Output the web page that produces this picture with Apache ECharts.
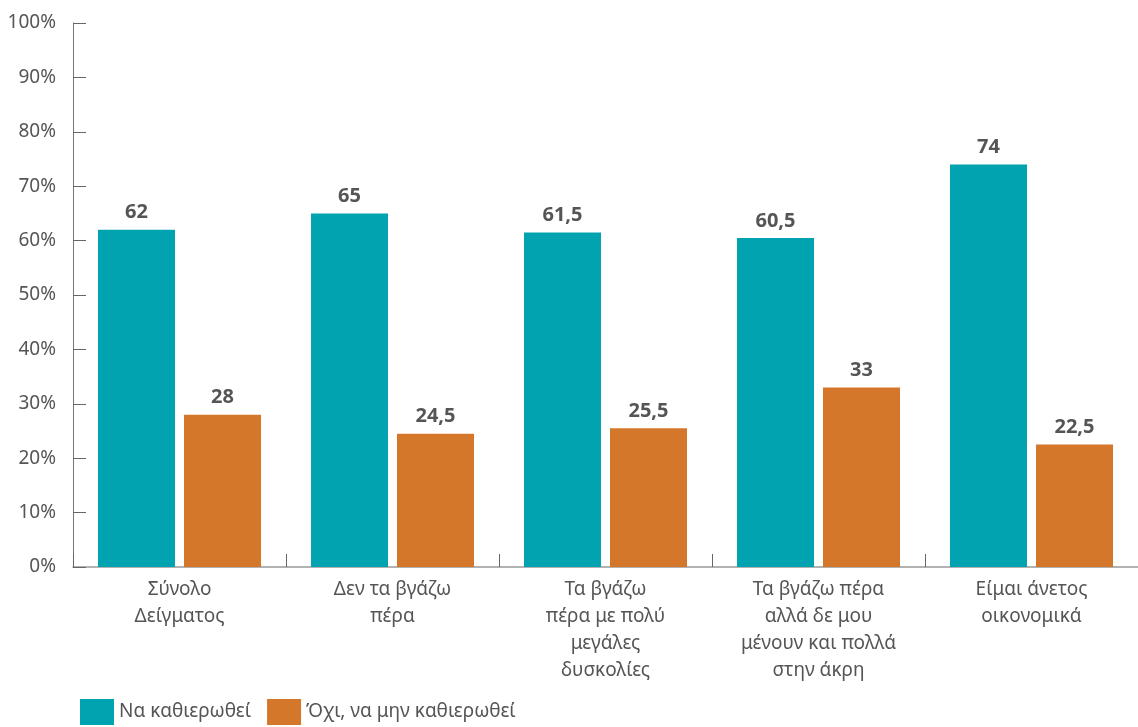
<!DOCTYPE html>
<html><head><meta charset="utf-8">
<script src="https://cdn.jsdelivr.net/npm/echarts@6/dist/echarts.min.js"></script>
<style>html,body{margin:0;padding:0;background:#fff}#c{width:1138px;height:727px}</style>
</head><body><div id="c"></div>
<script>
const categories = ["Σύνολο\nΔείγματος", "Δεν τα βγάζω\nπέρα", "Τα βγάζω\nπέρα με πολύ\nμεγάλες\nδυσκολίες", "Τα βγάζω πέρα\nαλλά δε μου\nμένουν και πολλά\nστην άκρη", "Είμαι άνετος\nοικονομικά"];
const seriesNames = ["Να καθιερωθεί", "Όχι, να μην καθιερωθεί"];
const yesValues = [62, 65, 61.5, 60.5, 74];
const noValues = [28, 24.5, 25.5, 33, 22.5];
const colors = ["#00A3AF", "#D5772A"];
const font = "'Noto Sans', sans-serif";
const chart = echarts.init(document.getElementById('c'));
const lbl = {show:true, position:'top', distance:7, fontFamily:font, fontWeight:'bold', fontSize:20, color:'#555', formatter:p=>String(p.value).replace('.', ',')};
chart.setOption({
  animation:false,
  textStyle:{fontFamily:font},
  grid:{left:73, right:0, top:23, bottom:160, containLabel:false},
  legend:{left:75, top:694, itemWidth:34, itemHeight:26, itemGap:16, icon:'rect',
    textStyle:{fontFamily:font, fontSize:19, color:'#555', padding:[0,0,0,0]}, data:seriesNames},
  xAxis:{type:'category', data:categories,
    axisLine:{lineStyle:{color:'#999', width:1.5}},
    axisTick:{show:true, inside:true, length:13, lineStyle:{color:'#666'}},
    axisLabel:{fontFamily:font, fontSize:19, color:'#555', lineHeight:27, margin:9, interval:0}},
  yAxis:{type:'value', min:0, max:100, interval:10,
    axisLine:{show:true, lineStyle:{color:'#777'}},
    axisTick:{show:true, inside:true, length:13, lineStyle:{color:'#666'}},
    splitLine:{show:false},
    axisLabel:{fontFamily:font, fontSize:19, color:'#555', margin:17, formatter:'{value}%'}},
  series:[
    {name:seriesNames[0], type:'bar', data:yesValues, barWidth:77, barGap:'11.7%', itemStyle:{color:colors[0]}, label:lbl},
    {name:seriesNames[1], type:'bar', data:noValues, barWidth:77, itemStyle:{color:colors[1]}, label:lbl}
  ]
});
</script></body></html>
